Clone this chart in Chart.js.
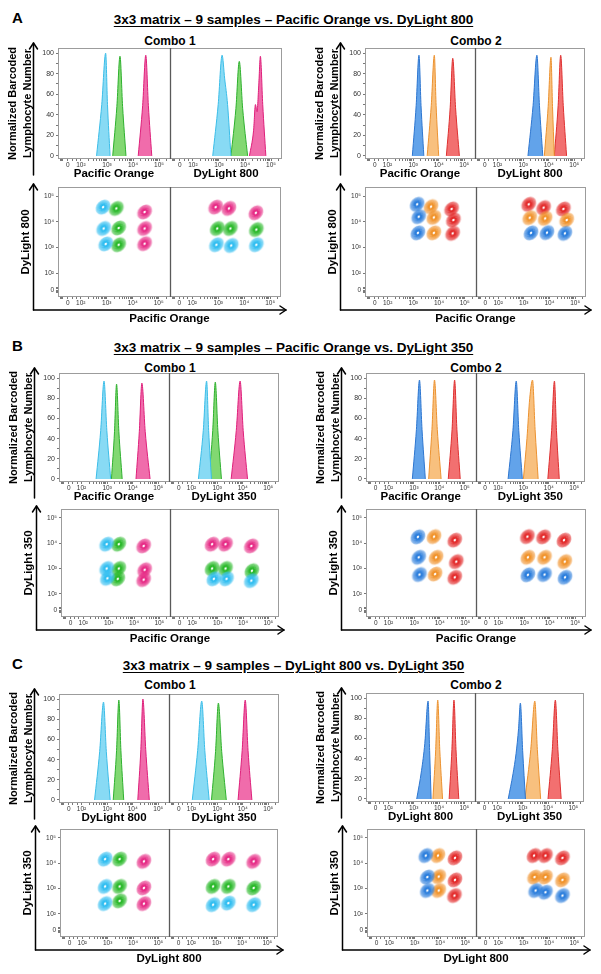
<!DOCTYPE html>
<html><head><meta charset="utf-8">
<script src="https://cdn.jsdelivr.net/npm/chart.js@4.4.1/dist/chart.umd.min.js"></script>
<style>
html,body{margin:0;padding:0;background:#fff;}
#page{position:relative;width:601px;height:974px;overflow:hidden;font-family:"Liberation Sans",Arial,Helvetica,sans-serif;color:#000;}
.lbl{position:absolute;font-weight:bold;line-height:1;white-space:nowrap;}
.letter{font-size:15px;left:12px;}
.title{font-size:13.5px;left:0;width:587px;text-align:center;text-decoration:underline;text-underline-offset:2px;}
.combo{font-size:12px;width:200px;text-align:center;}
canvas{position:absolute;}
</style></head><body><div id="page"></div>
<script>
// ================= DATA =================
const sectionLetters = ['A', 'B', 'C'];
const sectionTitles = [
  '3x3 matrix \u2013 9 samples \u2013 Pacific Orange vs. DyLight 800',
  '3x3 matrix \u2013 9 samples \u2013 Pacific Orange vs. DyLight 350',
  '3x3 matrix \u2013 9 samples \u2013 DyLight 800 vs. DyLight 350'
];
const comboNames = ['Combo 1', 'Combo 2'];
const histYTitle = ['Normalized Barcoded', 'Lymphocyte Number'];
const histXTitles = [['Pacific Orange', 'DyLight 800'], ['Pacific Orange', 'DyLight 350'], ['DyLight 800', 'DyLight 350']];
const contourYTitles = ['DyLight 800', 'DyLight 350', 'DyLight 350'];
const contourXTitles = ['Pacific Orange', 'Pacific Orange', 'DyLight 800'];

// tick values (axis units = log10 intensity) and labels
const xMajorTicks = [1.5, 2, 3, 4, 5];
const xMajorLabels = ['0', '10\u00B2', '10\u00B3', '10\u2074', '10\u2075'];
const xMinorTicks = [1.22, 1.26, 1.30, 1.66, 1.83, 2.30, 2.48, 2.60, 2.70, 2.78, 2.85, 2.90, 2.95,
  3.30, 3.48, 3.60, 3.70, 3.78, 3.85, 3.90, 3.95, 4.30, 4.48, 4.60, 4.70, 4.78, 4.85, 4.90, 4.95, 5.30];
const contYMajorTicks = [1.35, 2, 3, 4, 5];
const contYMajorLabels = ['0', '10\u00B2', '10\u00B3', '10\u2074', '10\u2075'];
const contYMinorTicks = [1.25, 1.30, 1.40, 1.45];
const histYMajorTicks = [0, 20, 40, 60, 80, 100];
const histYMajorLabels = ['0', '20', '40', '60', '80', '100'];
const histYMinorTicks = [10, 30, 50, 70, 90];

// Histograms: one [x (log10 intensity), y (% of max)] list per barcode population
// combo 1 order: cyan, green, magenta ; combo 2 order: blue, orange, red
const histA1PO = [
  [[2.60,0],[2.80,50],[2.95,100],[3.02,50],[3.12,0]],
  [[3.22,0],[3.38,48],[3.50,97],[3.60,48],[3.73,0]],
  [[4.20,0],[4.37,49],[4.49,98],[4.59,49],[4.72,0]]
];
const histA1DL800 = [
  [[2.76,0],[2.97,50],[3.12,98],[3.22,75],[3.33,50],[3.46,0]],
  [[3.46,0],[3.65,46],[3.78,92],[3.91,46],[4.10,0]],
  [[4.17,0],[4.33,25],[4.40,50],[4.46,43],[4.53,70],[4.59,97],[4.68,50],[4.80,0]]
];
const histA2PO = [
  [[2.97,0],[3.12,49],[3.23,98],[3.31,49],[3.42,0]],
  [[3.55,0],[3.71,49],[3.83,98],[3.90,49],[4.00,0]],
  [[4.30,0],[4.45,47],[4.55,95],[4.66,47],[4.81,0]]
];
const histA2DL800 = [
  [[3.19,0],[3.39,49],[3.54,98],[3.64,49],[3.77,0]],
  [[3.83,0],[3.98,48],[4.09,96],[4.15,48],[4.22,0]],
  [[4.22,0],[4.37,49],[4.47,98],[4.57,49],[4.70,0]]
];
const histB1PO = [
  [[2.57,0],[2.75,48],[2.88,97],[2.99,48],[3.14,0]],
  [[3.17,0],[3.29,47],[3.37,94],[3.46,47],[3.59,0]],
  [[4.13,0],[4.26,47],[4.36,95],[4.49,47],[4.68,0]]
];
const histB1DL350 = [
  [[2.27,0],[2.46,48],[2.59,97],[2.67,48],[2.78,0]],
  [[2.68,0],[2.83,48],[2.93,96],[3.03,48],[3.17,0]],
  [[3.55,0],[3.75,48],[3.90,97],[4.02,48],[4.19,0]]
];
const histB2PO = [
  [[2.94,0],[3.10,49],[3.22,98],[3.32,49],[3.45,0]],
  [[3.58,0],[3.71,49],[3.81,98],[3.92,49],[4.07,0]],
  [[4.35,0],[4.50,49],[4.60,98],[4.69,49],[4.82,0]]
];
const histB2DL350 = [
  [[2.40,0],[2.59,48],[2.72,97],[2.82,48],[2.96,0]],
  [[3.00,0],[3.14,40],[3.25,80],[3.36,98],[3.46,49],[3.58,0]],
  [[3.96,0],[4.11,48],[4.22,97],[4.30,48],[4.41,0]]
];
const histC1DL800 = [
  [[2.51,0],[2.71,48],[2.86,97],[2.97,48],[3.12,0]],
  [[3.24,0],[3.37,49],[3.46,99],[3.54,49],[3.65,0]],
  [[4.20,0],[4.32,50],[4.40,100],[4.51,50],[4.65,0]]
];
const histC1DL350 = [
  [[2.03,0],[2.24,49],[2.40,98],[2.52,49],[2.69,0]],
  [[2.78,0],[2.94,48],[3.05,96],[3.18,48],[3.36,0]],
  [[3.82,0],[3.98,49],[4.10,99],[4.21,49],[4.36,0]]
];
const histC2DL800 = [
  [[3.12,0],[3.31,28],[3.44,55],[3.57,97],[3.63,48],[3.69,0]],
  [[3.76,0],[3.87,49],[3.95,98],[4.03,49],[4.14,0]],
  [[4.40,0],[4.51,49],[4.59,98],[4.67,49],[4.78,0]]
];
const histC2DL350 = [
  [[2.43,0],[2.62,25],[2.74,45],[2.84,70],[2.91,95],[3.00,48],[3.11,0]],
  [[3.09,0],[3.32,49],[3.48,97],[3.58,49],[3.71,0]],
  [[4.00,0],[4.17,49],[4.29,98],[4.39,49],[4.52,0]]
];

// Contour plots: cluster centres [x, y] (log10 intensity) per barcode colour
const contA1L = [
  [[2.86,4.57],[2.88,3.74],[2.96,3.14]],
  [[3.37,4.52],[3.46,3.76],[3.46,3.11]],
  [[4.46,4.38],[4.46,3.74],[4.46,3.15]]
];
const contA1R = [
  [[2.93,3.11],[3.50,3.08],[4.47,3.11]],
  [[2.96,3.74],[3.47,3.74],[4.47,3.70]],
  [[2.90,4.57],[3.41,4.52],[4.45,4.35]]
];
const contA2L = [
  [[3.15,4.68],[3.21,4.20],[3.18,3.57]],
  [[3.69,4.59],[3.80,4.17],[3.80,3.57]],
  [[4.49,4.50],[4.56,4.07],[4.53,3.55]]
];
const contA2R = [
  [[3.28,3.57],[3.90,3.58],[4.60,3.55]],
  [[3.23,4.16],[3.83,4.13],[4.67,4.07]],
  [[3.19,4.68],[3.77,4.55],[4.54,4.50]]
];
const contB1L = [
  [[2.92,3.96],[2.92,3.00],[2.95,2.61]],
  [[3.40,3.96],[3.40,3.00],[3.36,2.59]],
  [[4.38,3.89],[4.42,2.95],[4.38,2.56]]
];
const contB1R = [
  [[2.85,2.59],[3.35,2.59],[4.33,2.52]],
  [[2.78,3.00],[3.31,3.00],[4.35,2.91]],
  [[2.78,3.96],[3.31,3.96],[4.33,3.89]]
];
const contB2L = [
  [[3.15,4.25],[3.18,3.44],[3.21,2.76]],
  [[3.78,4.26],[3.86,3.44],[3.82,2.78]],
  [[4.59,4.12],[4.65,3.27],[4.59,2.65]]
];
const contB2R = [
  [[3.15,2.75],[3.80,2.76],[4.60,2.65]],
  [[3.15,3.44],[3.80,3.44],[4.59,3.27]],
  [[3.13,4.26],[3.76,4.25],[4.56,4.12]]
];
const contC1L = [
  [[2.90,4.16],[2.90,3.08],[2.90,2.40]],
  [[3.47,4.16],[3.47,3.08],[3.47,2.51]],
  [[4.43,4.07],[4.43,3.02],[4.43,2.40]]
];
const contC1R = [
  [[2.86,2.36],[3.46,2.42],[4.46,2.36]],
  [[2.86,3.08],[3.46,3.08],[4.46,3.02]],
  [[2.86,4.16],[3.46,4.16],[4.46,4.07]]
];
const contC2L = [
  [[3.44,4.30],[3.50,3.45],[3.50,2.92]],
  [[3.92,4.30],[3.95,3.47],[3.95,2.92]],
  [[4.59,4.21],[4.59,3.34],[4.57,2.72]]
];
const contC2R = [
  [[3.47,2.92],[3.86,2.85],[4.53,2.72]],
  [[3.43,3.45],[3.86,3.45],[4.53,3.34]],
  [[3.41,4.30],[3.86,4.30],[4.53,4.21]]
];

// ================= STYLE / LAYOUT =================
const FONT = '"Liberation Sans", Arial, Helvetica, sans-serif';
Chart.defaults.font.family = FONT;
Chart.defaults.color = '#222';

const palettes = [
  { fill: ['#88daf4', '#82d872', '#f06cab'], line: ['#3bbde8', '#2eb02e', '#de1f7a'], dot: ['#2fbdf0', '#28b828', '#e62a85'] },
  { fill: ['#62a3ea', '#f8c07e', '#f27070'], line: ['#2d76d0', '#ec9230', '#de3030'], dot: ['#2a7ddc', '#f0922a', '#e32a2a'] }
];

// panel frames [left, top, right, bottom] in page pixels
const panels = [
  { sec: 0, kind: 'hist', combo: 0, f: [58, 48, 282, 159], data: [histA1PO, histA1DL800] },
  { sec: 0, kind: 'hist', combo: 1, f: [365, 48, 585, 159], data: [histA2PO, histA2DL800] },
  { sec: 0, kind: 'cont', combo: 0, f: [58, 187, 281, 297], data: [contA1L, contA1R] },
  { sec: 0, kind: 'cont', combo: 1, f: [365, 187, 586, 297], data: [contA2L, contA2R] },
  { sec: 1, kind: 'hist', combo: 0, f: [59, 373, 279, 482], data: [histB1PO, histB1DL350] },
  { sec: 1, kind: 'hist', combo: 1, f: [366, 373, 585, 482], data: [histB2PO, histB2DL350] },
  { sec: 1, kind: 'cont', combo: 0, f: [61, 509, 279, 617], data: [contB1L, contB1R] },
  { sec: 1, kind: 'cont', combo: 1, f: [366, 509, 586, 617], data: [contB2L, contB2R] },
  { sec: 2, kind: 'hist', combo: 0, f: [59, 694, 279, 803], data: [histC1DL800, histC1DL350] },
  { sec: 2, kind: 'hist', combo: 1, f: [366, 693, 584, 802], data: [histC2DL800, histC2DL350] },
  { sec: 2, kind: 'cont', combo: 0, f: [60, 829, 278, 937], data: [contC1L, contC1R] },
  { sec: 2, kind: 'cont', combo: 1, f: [367, 829, 585, 937], data: [contC2L, contC2R] }
];
const letterTops = [10, 338, 656];
const titleTops = [13, 340.5, 659];
const comboTops = [35.4, 361.7, 679.1];
const comboCenters = [170, 476];

const page = document.getElementById('page');
function addText(cls, text, left, top) {
  const d = document.createElement('div');
  d.className = 'lbl ' + cls;
  d.textContent = text;
  if (left !== null) d.style.left = left + 'px';
  d.style.top = top + 'px';
  page.appendChild(d);
}
sectionLetters.forEach((l, i) => {
  addText('letter', l, null, letterTops[i]);
  addText('title', sectionTitles[i], null, titleTops[i]);
  comboNames.forEach((c, j) => addText('combo', c, comboCenters[j] - 100, comboTops[i]));
});

// contour glyph (a tilted set of density rings) used as the point style
function hexRgb(h) { const n = parseInt(h.slice(1), 16); return [(n >> 16) & 255, (n >> 8) & 255, n & 255]; }
function makeGlyph(hex) {
  const [r, g, b] = hexRgb(hex);
  const c = document.createElement('canvas');
  c.width = 22; c.height = 22;
  const x = c.getContext('2d');
  x.translate(11, 11); x.rotate(-Math.PI / 4);
  x.beginPath(); x.ellipse(0, 0, 8.2, 6.4, 0, 0, Math.PI * 2);
  x.fillStyle = `rgba(${r},${g},${b},0.16)`; x.fill();
  const rings = [[8.0, 6.2, 0.28], [7.2, 5.6, 0.4], [6.4, 5.0, 0.52], [5.6, 4.4, 0.64], [4.8, 3.8, 0.76], [4.0, 3.2, 0.88], [3.2, 2.6, 1]];
  rings.forEach(([rx, ry, a]) => {
    x.beginPath(); x.ellipse(0, 0, rx, ry, 0, 0, Math.PI * 2);
    x.strokeStyle = `rgba(${r},${g},${b},${a})`; x.lineWidth = 1; x.stroke();
  });
  x.beginPath(); x.ellipse(0, 0, 2.3, 1.8, 0, 0, Math.PI * 2);
  x.strokeStyle = `rgb(${r},${g},${b})`; x.lineWidth = 1.8; x.stroke();
  x.beginPath(); x.ellipse(0, 0, 1.3, 0.9, 0, 0, Math.PI * 2);
  x.fillStyle = '#fff'; x.fill();
  return c;
}
const glyphs = palettes.map(p => p.dot.map(makeGlyph));

const frameArrows = {
  id: 'frameArrows',
  afterDraw(chart, args, o) {
    const { ctx, chartArea: ca } = chart;
    ctx.save();
    ctx.strokeStyle = '#9c9c9c'; ctx.lineWidth = 1;
    ctx.strokeRect(ca.left + 0.5, ca.top + 0.5, ca.width - 1, ca.height - 1);
    const mid = Math.round(chart.scales.x1.right) + 0.5;
    ctx.strokeStyle = '#5a5a5a'; ctx.lineWidth = 1.3;
    ctx.beginPath(); ctx.moveTo(mid, ca.top); ctx.lineTo(mid, ca.bottom); ctx.stroke();
    ctx.strokeStyle = '#000'; ctx.lineWidth = 1.5; ctx.lineCap = 'round'; ctx.lineJoin = 'round';
    const ax = Math.round(ca.left + o.dx) + 0.5;
    const top = ca.top - o.up;
    const bot = ca.bottom + o.down;
    ctx.beginPath(); ctx.moveTo(ax, bot); ctx.lineTo(ax, top); ctx.stroke();
    ctx.beginPath(); ctx.moveTo(ax - 4, top + 6); ctx.lineTo(ax, top); ctx.lineTo(ax + 4, top + 6); ctx.stroke();
    if (o.horiz) {
      const right = ca.right + o.right;
      ctx.beginPath(); ctx.moveTo(ax, bot); ctx.lineTo(right, bot); ctx.stroke();
      ctx.beginPath(); ctx.moveTo(right - 6, bot - 4); ctx.lineTo(right, bot); ctx.lineTo(right - 6, bot + 4); ctx.stroke();
    }
    ctx.restore();
  }
};

function labeler(majors, labels) {
  return v => { const i = majors.indexOf(v); return i >= 0 ? labels[i] : ''; };
}
const tickGrid = { display: true, drawOnChartArea: false, drawTicks: true, tickLength: 2, color: '#555', tickWidth: 0.8 };

function xScale(isHist, title) {
  return {
    type: 'linear', position: 'bottom', stack: 'sub', stackWeight: 1, min: 1.12, max: 5.42,
    afterBuildTicks: s => { s.ticks = xMajorTicks.concat(xMinorTicks).sort((a, b) => a - b).map(v => ({ value: v })); },
    afterFit: s => { s.height = isHist ? 22 : 14; },
    ticks: { autoSkip: false, maxRotation: 0, minRotation: 0, padding: 0, font: { size: 6.5 }, color: '#333',
      callback: labeler(xMajorTicks, xMajorLabels) },
    grid: tickGrid,
    border: { display: false },
    title: { display: isHist, text: title, color: '#000', font: { size: 11.5, weight: 'bold', lineHeight: 1.2 }, padding: { top: 0, bottom: 0 } }
  };
}

function buildPanel(p) {
  const isHist = p.kind === 'hist';
  const x0 = p.combo === 0 ? 0 : 300;
  const w = p.combo === 0 ? 300 : 301;
  const [L, T, R, B] = p.f;
  const H = (B - T) + (isHist ? 32 : 41);
  const yW = isHist ? 54 : 41;
  const cv = document.createElement('canvas');
  cv.width = w; cv.height = H;
  cv.style.left = x0 + 'px'; cv.style.top = (T - 8) + 'px';
  cv.style.width = w + 'px'; cv.style.height = H + 'px';
  page.appendChild(cv);
  const pal = palettes[p.combo];
  const datasets = [];
  p.data.forEach((sub, si) => {
    sub.forEach((series, ci) => {
      const pts = series.map(([x, y]) => ({ x, y }));
      if (isHist) {
        datasets.push({ type: 'line', xAxisID: si ? 'x2' : 'x1', yAxisID: 'y', data: pts, fill: 'origin',
          backgroundColor: pal.fill[ci], borderColor: pal.line[ci], borderWidth: 1, pointRadius: 0,
          cubicInterpolationMode: 'monotone' });
      } else {
        datasets.push({ type: 'scatter', xAxisID: si ? 'x2' : 'x1', yAxisID: 'y', data: pts,
          pointStyle: glyphs[p.combo][ci], pointRadius: 7, showLine: false });
      }
    });
  });
  const yScale = isHist ? {
    type: 'linear', position: 'left', min: -3, max: 105,
    afterBuildTicks: s => { s.ticks = histYMajorTicks.concat(histYMinorTicks).sort((a, b) => a - b).map(v => ({ value: v })); },
    afterFit: s => { s.width = yW; },
    ticks: { autoSkip: false, padding: 2, font: { size: 7 }, color: '#333', callback: labeler(histYMajorTicks, histYMajorLabels) },
    grid: tickGrid, border: { display: false },
    title: { display: true, text: histYTitle, color: '#000', font: { size: 11, weight: 'bold', lineHeight: 1.32 }, padding: { top: 2, bottom: 0 } }
  } : {
    type: 'linear', position: 'left', min: 1.08, max: 5.35,
    afterBuildTicks: s => { s.ticks = contYMajorTicks.concat(contYMinorTicks).sort((a, b) => a - b).map(v => ({ value: v })); },
    afterFit: s => { s.width = yW; },
    ticks: { autoSkip: false, padding: 2, font: { size: 6.5 }, color: '#333', callback: labeler(contYMajorTicks, contYMajorLabels) },
    grid: tickGrid, border: { display: false },
    title: { display: true, text: contourYTitles[p.sec], color: '#000', font: { size: 11.5, weight: 'bold', lineHeight: 1.2 }, padding: { top: 2, bottom: 0 } }
  };
  const xt = histXTitles[p.sec];
  new Chart(cv, {
    type: isHist ? 'line' : 'scatter',
    data: { datasets },
    plugins: [frameArrows],
    options: {
      responsive: false, animation: false, devicePixelRatio: 1, events: [],
      layout: { padding: { left: L - x0 - yW, right: x0 + w - R, top: 8, bottom: isHist ? 2 : 4.2 } },
      scales: { x1: xScale(isHist, xt[0]), x2: xScale(isHist, xt[1]), y: yScale },
      plugins: {
        legend: { display: false }, tooltip: { enabled: false },
        title: { display: !isHist, text: contourXTitles[p.sec], position: 'bottom', fullSize: false, color: '#000',
          font: { size: 11.5, weight: 'bold', lineHeight: 1.2 }, padding: { top: 1, bottom: 0 } },
        frameArrows: isHist ? { dx: -25, up: 5, down: 16, horiz: false } : { dx: -25, up: 3, down: 13, horiz: true, right: 5 }
      }
    }
  });
}
panels.forEach(buildPanel);
</script></body></html>
